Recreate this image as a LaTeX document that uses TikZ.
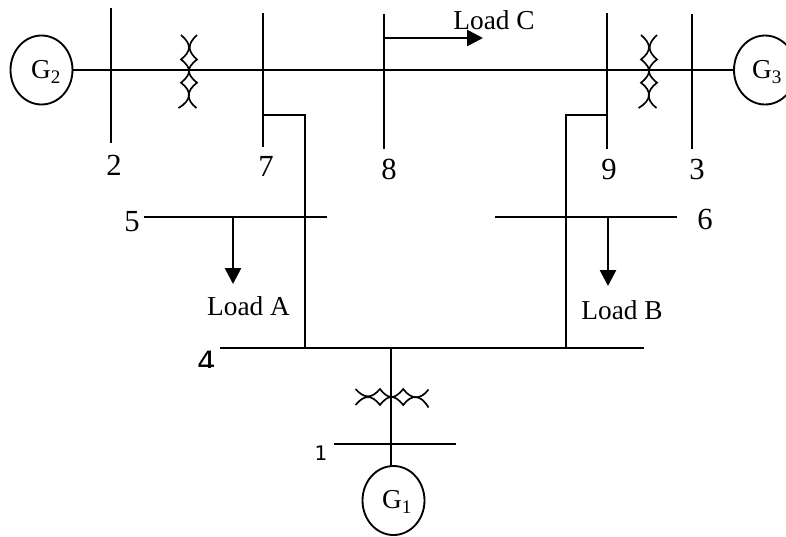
\documentclass[tikz,border=0pt]{standalone}
\usepackage{fontspec}
\setmainfont{Liberation Serif}
\newfontfamily\digitfont{DejaVu Sans}
\usetikzlibrary{arrows.meta,shapes.geometric}
\tikzset{
  wire/.style={line width=1.5pt,black},
  coil/.style={line width=1.25pt,black},
  gen/.style={ellipse,draw,line width=1.4pt,minimum width=46.5pt,minimum height=51.75pt,inner sep=0pt},
  gentext/.style={font=\fontsize{20.5}{22}\selectfont,inner sep=0pt},
  loadarrow/.style={line width=2pt,-{Triangle[length=12pt,width=12pt]}},
  lab/.style={font=\fontsize{20.5}{22}\selectfont,inner sep=0pt},
  num/.style={font=\fontsize{23}{24}\selectfont,inner sep=0pt},
  xfmr/.pic={
    \draw[coil] (-8,-36) .. controls (2.6,-27) and (2.6,-20) .. (-8,-11.5)
                .. controls (-2,-7) and (0,-3) .. (0,0)
                .. controls (0,3) and (-2,7) .. (-8,11.7)
                .. controls (3,20) and (3,29) .. (-10.5,37);
    \draw[coil] (8,-36) .. controls (-1.8,-27) and (-1.8,-20) .. (8,-11.5)
                .. controls (2,-7) and (0,-3) .. (0,0)
                .. controls (0,3) and (2,7) .. (8,11.7)
                .. controls (-3,20) and (-3,29) .. (7.5,37);
  }
}
\begin{document}
\begin{tikzpicture}[x=0.75pt,y=-0.75pt]
\useasboundingbox (0,0) rectangle (786,536);
% generators
\node[gen] (g2) at (41.5,70) {};
\node[gen] (g3) at (765,70) {};
\node[gen] (g1) at (393.5,500.5) {};
\node[gentext] (g2t) at (46,72) {G\textsubscript{2}};
\node[gentext] (g3t) at (767,72) {G\textsubscript{3}};
\node[gentext] (g1t) at (397,502) {G\textsubscript{1}};
% bus end points
\coordinate (b2t) at (111,8);   \coordinate (b2b) at (111,143);
\coordinate (b7t) at (263,13);  \coordinate (b7b) at (263,147);
\coordinate (b8t) at (384,14);  \coordinate (b8b) at (384,149);
\coordinate (b9t) at (607,13);  \coordinate (b9b) at (607,149);
\coordinate (b3t) at (692,14);  \coordinate (b3b) at (692,149);
\coordinate (b5l) at (144,217); \coordinate (b5r) at (327,217);
\coordinate (b6l) at (495,217); \coordinate (b6r) at (677,217);
\coordinate (b4l) at (220,348); \coordinate (b4r) at (644,348);
\coordinate (b1l) at (334,444); \coordinate (b1r) at (456,444);
\coordinate (j7) at (263,115);  \coordinate (j7c) at (305,115); \coordinate (j7d) at (305,348);
\coordinate (j9) at (607,115);  \coordinate (j9c) at (566,115); \coordinate (j9d) at (566,348);
\coordinate (j4) at (391,348);  \coordinate (j1) at (391,467);
\coordinate (la0) at (233,217); \coordinate (la1) at (233,284);
\coordinate (lb0) at (608,217); \coordinate (lb1) at (608,286);
\coordinate (lc0) at (383,38);  \coordinate (lc1) at (483,38);
% wires
\draw[wire] (g2) -- (g3);
\foreach \a/\b in {b2t/b2b,b7t/b7b,b8t/b8b,b9t/b9b,b3t/b3b,b5l/b5r,b6l/b6r,b4l/b4r,b1l/b1r}
  \draw[wire] (\a) -- (\b);
\draw[wire] (j7) -- (j7c) -- (j7d);
\draw[wire] (j9) -- (j9c) -- (j9d);
\draw[wire] (j4) -- (j1);
% transformers
\pic at (189,71) {xfmr};
\pic at (649,71) {xfmr};
\pic[rotate=90] at (391.5,397) {xfmr};
% loads
\draw[loadarrow] (la0) -- (la1);
\draw[loadarrow] (lb0) -- (lb1);
\draw[loadarrow] (lc0) -- (lc1);
\node[lab] (tc) at (494,20) {Load C};
\node[lab] (ta) at (248.5,306) {Load A};
\node[lab] (tb) at (622,310) {Load B};
% numbers
\node[num] (n2) at (114,165) {2};
\node[num] (n7) at (266,166) {7};
\node[num] (n8) at (389,169) {8};
\node[num] (n9) at (609,169) {9};
\node[num] (n3) at (697,169) {3};
\node[num] (n5) at (132,222) {5};
\node[num] (n6) at (705,219) {6};
\begin{scope}
  \clip (190,345) rectangle (225,367);
  \node[inner sep=0pt,font=\digitfont\fontsize{22}{24}\selectfont] (n4) at (207,361.5) {4};
\end{scope}
\node[inner sep=0pt,font=\digitfont\fontsize{15}{16}\selectfont] (n1) at (321,453) {1};
\end{tikzpicture}
\end{document}
